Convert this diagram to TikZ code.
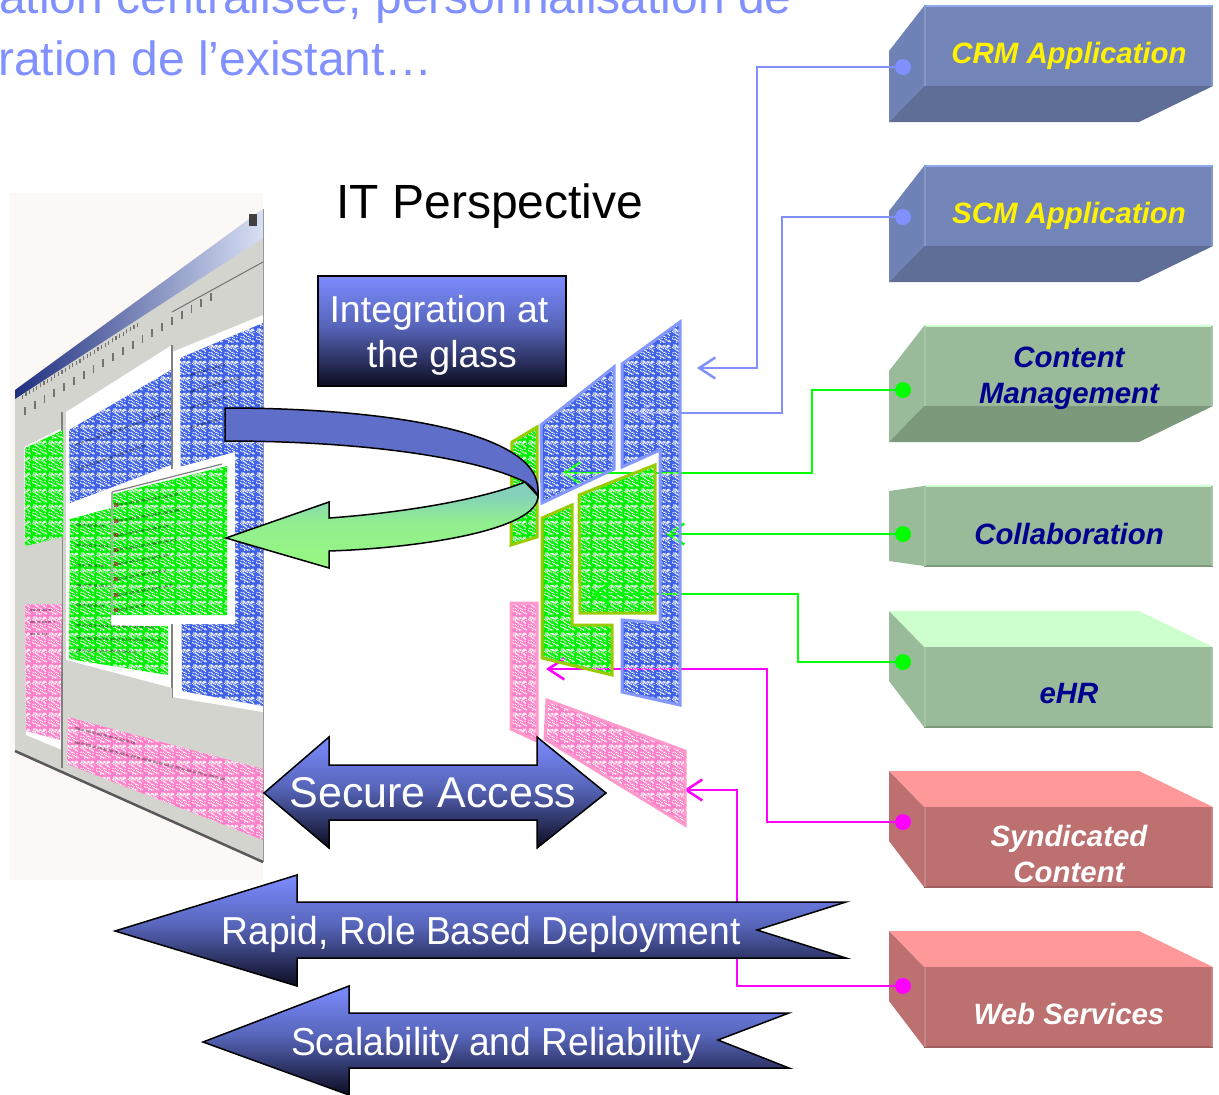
\documentclass[tikz,border=0pt]{standalone}
\usepackage{fontspec}
\setmainfont{Liberation Sans}
\usetikzlibrary{arrows.meta,patterns,shadings,calc}
\definecolor{lineblue}{HTML}{8090FF}
\definecolor{linegreen}{HTML}{00FF00}
\definecolor{linemag}{HTML}{FF00FF}
\definecolor{stipblue}{HTML}{3F62E8}
\definecolor{stipgreen}{HTML}{00F000}
\definecolor{stippink}{HTML}{FF80C8}
\definecolor{edgeblue}{HTML}{8498FF}
\definecolor{edgegreen}{HTML}{99CC00}
\definecolor{edgepink}{HTML}{FF99CC}
\definecolor{bfront}{HTML}{7284B8}
\definecolor{bleft}{HTML}{6F82B6}
\definecolor{bbot}{HTML}{5E6E96}
\definecolor{btop}{HTML}{8FA8F0}
\definecolor{gfront}{HTML}{99BB99}
\definecolor{gbot}{HTML}{7C997C}
\definecolor{gtop}{HTML}{CCFFCC}
\definecolor{rfront}{HTML}{BC7070}
\definecolor{rbot}{HTML}{A06060}
\definecolor{rtop}{HTML}{FF9999}
\definecolor{navytxt}{HTML}{000090}
\definecolor{chrome}{HTML}{D4D4CE}
\definecolor{arrowtop}{HTML}{7C8CFF}
\definecolor{arrowmid}{HTML}{5664B8}
\definecolor{arrowbot}{HTML}{0C0C20}
\definecolor{curvetop}{HTML}{84D0BC}
\definecolor{curvemid}{HTML}{90EE90}
\definecolor{curvebot}{HTML}{98F880}
\definecolor{curveblue}{HTML}{5F6EC8}
\definecolor{shotbg}{HTML}{FBF8F6}
\definecolor{barleft}{HTML}{203080}
\definecolor{barmid}{HTML}{90A8D8}
\definecolor{barright}{HTML}{D8E0F4}
\pgfdeclareverticalshading{arrowgrad}{100bp}{color(0bp)=(arrowbot);color(25bp)=(arrowbot);color(52bp)=(arrowmid);color(75bp)=(arrowtop);color(100bp)=(arrowtop)}
\pgfdeclareverticalshading{curvegrad}{100bp}{color(0bp)=(curvebot);color(25bp)=(curvebot);color(52bp)=(curvemid);color(68bp)=(curvetop);color(100bp)=(curvetop)}
\pgfdeclarepatternformonly{noisy}{\pgfqpoint{0pt}{0pt}}{\pgfqpoint{16pt}{16pt}}{\pgfqpoint{16pt}{16pt}}{%
  \foreach \i in {1,...,64}{%
    \pgfmathsetmacro{\px}{mod(\i*11.02+1.3*sin(\i*97),14.4)}%
    \pgfmathsetmacro{\py}{mod(\i*8.32+1.3*sin(\i*151),14.4)}%
    \pgfmathsetmacro{\qx}{abs(\px)}%
    \pgfmathsetmacro{\qy}{abs(\py)}%
    \pgfpathrectangle{\pgfqpoint{\qx pt}{\qy pt}}{\pgfqpoint{1.15pt}{1.15pt}}%
    \pgfusepath{fill}%
  }%
}
\tikzset{
  fillb/.style={fill=stipblue},
  fillg/.style={fill=stipgreen},
  fillp/.style={fill=stippink},
  stip/.style={pattern=noisy,pattern color=white},
  edge/.style={line width=3pt,line join=miter},
  conn/.style={line width=2.5pt,line join=miter},
  tipped/.style={-{Straight Barb[length=16pt,width=21pt,line width=2.5pt]}},
  dotnode/.style={circle,inner sep=0pt,minimum size=16pt},
  fat/.style={draw=black,line width=1.5pt,shading=arrowgrad,line join=miter},
  boxlbl/.style={font=\fontsize{29.4}{36}\selectfont\bfseries\itshape,align=center,anchor=center},
  fatlbl/.style={text=white,anchor=center,align=center},
  detail/.style={draw=black!55,line width=.7pt},
  rowline/.style={draw=black,opacity=.3,line width=2.4pt,dash pattern=on 5pt off 1.5pt on 3pt off 2pt}
}
\newcommand{\panel}[2]{\path[fill=#1] #2; \path[stip] #2;}
\begin{document}
\begin{tikzpicture}[x=1pt,y=-1pt]
\useasboundingbox (0,0) rectangle (1219,1095);
% heading
\node[anchor=base west,inner sep=0pt,text=lineblue,font=\fontsize{48}{52}\selectfont] (head1) at (-1,13) {ation centralisée, personnalisation de};
\node[anchor=base west,inner sep=0pt,text=lineblue,font=\fontsize{48}{52}\selectfont] (head2) at (-2,75) {ration de l’existant…};
\node[anchor=base,inner sep=0pt,font=\fontsize{48}{52}\selectfont] (title) at (490,218) {IT Perspective};
% screenshot
\fill[shotbg] (10,193) rectangle (263,880);
\fill[chrome] (15,390) -- (263,209) -- (263,862) -- (15,751) -- cycle;
\shade[left color=barleft,middle color=barmid,right color=barright] (15,390) -- (263,209) -- (263,238) -- (15,399) -- cycle;
\fill[black!75] (249,214) rectangle (257,226);
\fill[white] (24,447) -- (62,428) -- (62,750) -- (26,735) -- cycle;
\fill[white] (66,412) -- (172,345) -- (172,690) -- (66,660) -- cycle;
\fill[white] (172,352) -- (263,315) -- (263,712) -- (172,697) -- cycle;
\draw[black!50,line width=1.2pt] (62,412) -- (62,768) (172,345) -- (172,698);
\draw[black!40,line width=1pt] (263,209) -- (263,862);
\draw[black!65,line width=2.5pt] (15,751) -- (263,862);
\fill[chrome] (24,540) -- (62,534) -- (62,604) -- (24,604) -- cycle;
\fill[chrome] (66,660) -- (172,688) -- (172,707) -- (66,688) -- cycle;
\fill[chrome] (66,688) -- (263,720) -- (263,770) -- (66,717) -- cycle;
% toolbar marks
\foreach \t in {0.03,0.08,...,1.0}{
  \draw[detail,line width=1.8pt] ($(19,419)!\t!(215,299)$) -- ++(0,-8);
}
\foreach \t in {0.02,0.05,...,1.0}{
  \draw[detail,line width=1.2pt] ($(20,400)!\t!(140,325)$) -- ++(0,-4);
}
\draw[detail,line width=1pt] (172,312) -- (263,262);
% coloured panels of the screenshot
\panel{stipblue}{(69,430) -- (171,370) -- (171,465) -- (70,503) -- cycle}
\panel{stipblue}{(180,358) -- (263,323) -- (263,706) -- (182,691) -- cycle}
\fill[white] (168,470) -- (235,452) -- (235,624) -- (172,624) -- (168,624) -- cycle;
\panel{stipgreen}{(70,519) -- (111,508) -- (111,626) -- (168,626) -- (168,675) -- (69,659) -- cycle}
\fill[white] (111,490) -- (168,476) -- (168,624) -- (111,624) -- cycle;
\panel{stipgreen}{(113,494) -- (227,466) -- (227,615) -- (113,615) -- cycle}
\panel{stipgreen}{(25,448) -- (63,430) -- (63,537) -- (25,546) -- cycle}
\panel{stippink}{(25,604) -- (62,604) -- (60,740) -- (26,731) -- cycle}
\panel{stippink}{(68,717) -- (263,769) -- (263,840) -- (67,764) -- cycle}
\draw[black!50,line width=1.2pt] (112,492) -- (222,464) (112,492) -- (112,615);
% blurred rows of the screenshot
\foreach \y/\w in {505/60,521/62,535/50,550/58,564/52,579/48,595/55,610/30}{
  \draw[rowline] (118,\y) -- ++(\w,-\w*0.18);
  \fill[red!60!black,opacity=.6] (114,\y-2) rectangle (118,\y+2);
}
\foreach \y/\w in {525/30,545/32,565/30,585/33,605/28,625/80,638/85,650/60}{
  \draw[rowline] (76,\y) -- ++(\w,\w*0.03);
}
\foreach \y/\w in {375/35,392/50,408/45,428/30}{
  \draw[rowline] (190,\y) -- ++(\w,-\w*0.3);
}
\foreach \y/\w in {445/90,470/70}{
  \draw[rowline] (75,\y) -- ++(\w,-\w*0.35);
}
\foreach \y/\w in {728/60,742/150}{
  \draw[rowline] (75,\y) -- ++(\w,\w*0.25);
}
\foreach \y/\w in {610/22,622/25,634/18}{
  \draw[rowline] (30,\y) -- ++(\w,0);
}
% right-hand panels, base colour
\path[fillb] (622,364) -- (680,322) -- (680,705) -- (622,692) -- (622,620) -- (660,623) -- (660,450) -- (622,467) -- cycle;
\path[fillb] (541,425) -- (614,367) -- (614,469) -- (542,503) -- cycle;
\path[fillg] (537,427) -- (512,442) -- (511,545) -- (537,537) -- cycle;
\path[fillg] (579,495) -- (655,465) -- (655,613) -- (580,613) -- cycle;
\path[fillg] (572,505) -- (542,518) -- (542,658) -- (612,675) -- (612,625) -- (572,625) -- cycle;
\path[fillp] (511,603) -- (537,603) -- (537,741) -- (511,729) -- cycle;
\path[fillp] (547,700) -- (685,751) -- (685,825) -- (545,739) -- cycle;
% boxes
\newcommand{\botbox}[5]{%
  \fill[#3] (889,#1+45) -- (924,#1) -- (924,#1+80) -- (889,#1+116) -- cycle;
  \fill[#4] (889,#1+116) -- (924,#1+80) -- (1213,#1+80) -- (1139,#1+116) -- cycle;
  \fill[#2] (924,#1) rectangle (1213,#1+80);
  \draw[#5,line width=2pt] (924,#1) -- (1213,#1);
  \draw[#2!85!white,line width=2pt] (925,#1) -- (925,#1+80) (1212,#1) -- (1212,#1+80);
}
\newcommand{\topbox}[5]{%
  \fill[#4] (889,#1) -- (1139,#1) -- (1213,#1+36) -- (924,#1+36) -- cycle;
  \fill[#3] (889,#1) -- (924,#1+36) -- (924,#1+116) -- (889,#1+70) -- cycle;
  \fill[#2] (924,#1+36) rectangle (1213,#1+116);
  \draw[#5,line width=2pt] (924,#1+116) -- (1213,#1+116);
  \draw[#2!85!white,line width=2pt] (925,#1+36) -- (925,#1+116) (1212,#1+36) -- (1212,#1+116);
}
\botbox{6}{bfront}{bleft}{bbot}{btop}
\botbox{166}{bfront}{bleft}{bbot}{btop}
\botbox{326}{gfront}{gfront}{gbot}{gtop}
\fill[gfront] (889,491) -- (924,486) -- (924,566) -- (889,561) -- cycle;
\fill[gfront] (924,486) rectangle (1213,566);
\draw[gtop,line width=2pt] (924,486) -- (1213,486);
\draw[gbot,line width=2pt] (924,566) -- (1213,566);
\draw[gfront!85!white,line width=2pt] (925,486) -- (925,566) (1212,486) -- (1212,566);
\topbox{611}{gfront}{gfront}{gtop}{gbot}
\topbox{771}{rfront}{rfront}{rtop}{rbot}
\topbox{931}{rfront}{rfront}{rtop}{rbot}
\node[boxlbl,text=yellow] (crm) at (1069,56) {CRM Application};
\node[boxlbl,text=yellow] (scm) at (1069,216) {SCM Application};
\node[boxlbl,text=navytxt] (cm) at (1069,378) {Content\\Management};
\node[boxlbl,text=navytxt] (col) at (1069,534) {Collaboration};
\node[boxlbl,text=navytxt] (ehr) at (1069,694) {eHR};
\node[boxlbl,text=white] (syn) at (1069,854) {Syndicated\\Content};
\node[boxlbl,text=white] (web) at (1069,1014) {Web Services};
% connector ends
\node[dotnode,fill=lineblue] (d1) at (903,67) {};
\node[dotnode,fill=lineblue] (d2) at (903,217) {};
\node[dotnode,fill=linegreen] (d3) at (903,390) {};
\node[dotnode,fill=linegreen] (d4) at (903,534) {};
\node[dotnode,fill=linegreen] (d5) at (903,662) {};
\node[dotnode,fill=linemag] (d6) at (903,822) {};
\node[dotnode,fill=linemag] (d7) at (903,986) {};
\coordinate (e1) at (697,368);
\coordinate (e2) at (636,413);
\coordinate (e3) at (562,473);
\coordinate (e4) at (666,534);
\coordinate (e5) at (592,594);
\coordinate (e5b) at (655,594);
\coordinate (e6) at (546,669);
\coordinate (e7) at (684,790);
\draw[conn,tipped,lineblue] (d1.center) -- (757,67) -- (757,368) -- (e1);
\draw[conn,tipped,lineblue] (d2.center) -- (782,217) -- (782,413) -- (e2);
\draw[conn,tipped,linegreen] (d3.center) -- (812,390) -- (812,473) -- (e3);
\draw[conn,tipped,linegreen] (d4.center) -- (e4);
\draw[conn,tipped,linegreen] (d5.center) -- (798,662) -- (798,594) -- (e5);
\draw[conn,tipped,linemag] (d6.center) -- (767,822) -- (767,669) -- (e6);
\draw[conn,tipped,linemag] (d7.center) -- (737,986) -- (737,790) -- (e7);
% stipple and outlines above the connectors
\foreach \shp/\ec in {
  {(622,364) -- (680,322) -- (680,705) -- (622,692) -- (622,620) -- (660,623) -- (660,450) -- (622,467) -- cycle}/edgeblue,
  {(541,425) -- (614,367) -- (614,469) -- (542,503) -- cycle}/edgeblue,
  {(537,427) -- (512,442) -- (511,545) -- (537,537) -- cycle}/edgegreen,
  {(579,495) -- (655,465) -- (655,613) -- (580,613) -- cycle}/edgegreen,
  {(572,505) -- (542,518) -- (542,658) -- (612,675) -- (612,625) -- (572,625) -- cycle}/edgegreen,
  {(511,603) -- (537,603) -- (537,741) -- (511,729) -- cycle}/edgepink,
  {(547,700) -- (685,751) -- (685,825) -- (545,739) -- cycle}/edgepink}{
  \path[stip] \shp;
  \draw[edge,draw=\ec] \shp;
}
\draw[conn,tipped,linegreen] (e5b) -- (e5);
% curved arrow
\draw[line width=1.5pt,line join=miter,shading=curvegrad] (329,518) .. controls (400,513) and (480,500) .. (525,482) -- (538,496) .. controls (538,530) and (420,548) .. (329,551) -- (329,568) -- (226,538) -- (329,502) -- cycle;
\draw[line width=1.5pt,line join=miter,fill=curveblue] (225,408) .. controls (380,408) and (538,430) .. (538,490) -- (538,496) .. controls (535,490) and (530,485) .. (525,482) .. controls (470,455) and (350,441) .. (225,441) -- cycle;
% gradient boxes and arrows
\node[fat,minimum width=248pt,minimum height=110pt,inner sep=0pt] (glass) at (442,331) {};
\node[fatlbl,font=\fontsize{37.5}{45}\selectfont] (glasslbl) at (439,335) {Integration at\\\hspace*{6pt}the glass};
\draw[fat] (264,793) -- (329,737) -- (329,765) -- (537,765) -- (537,737) -- (606,793) -- (537,848) -- (537,820) -- (329,820) -- (329,848) -- cycle;
\node[fatlbl,font=\fontsize{43}{50}\selectfont] (secure) at (433,793) {Secure Access};
\draw[fat] (115,931) -- (297,875) -- (297,902) -- (846,902) -- (757,930) -- (846,958) -- (297,958) -- (297,986) -- cycle;
\node[fatlbl,font=\fontsize{39}{44}\selectfont] (rapid) at (481,934) {\scalebox{0.954}[1]{Rapid, Role Based Deployment}};
\draw[fat] (203,1042) -- (349,986) -- (349,1013) -- (789,1013) -- (718,1040) -- (789,1068) -- (349,1068) -- (349,1095) -- cycle;
\node[fatlbl,font=\fontsize{39}{44}\selectfont] (scal) at (496,1045) {\scalebox{0.955}[1]{Scalability and Reliability}};
\end{tikzpicture}
\end{document}
